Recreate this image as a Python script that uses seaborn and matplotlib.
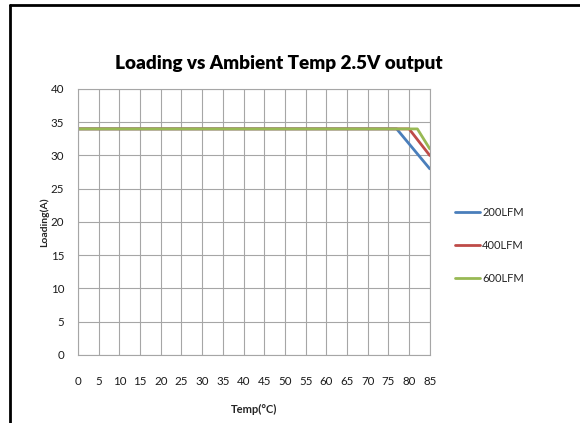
import matplotlib
matplotlib.use("Agg")
import matplotlib.pyplot as plt
import seaborn as sns
import pandas as pd
from matplotlib.lines import Line2D

# Derating curves: loading (A) vs ambient temperature (°C)
temp_200 = [0, 77, 85]
load_200 = [34, 34, 28]
temp_400 = [0, 80, 85]
load_400 = [34, 34, 30]
temp_600 = [0, 82, 85]
load_600 = [34, 34, 31]
series = ["200LFM", "400LFM", "600LFM"]
colors = ["#4a7ebb", "#be4b48", "#98b954"]
x_ticks = list(range(0, 90, 5))
y_ticks = list(range(0, 45, 5))

df = pd.concat([
    pd.DataFrame({"Temp": temp_200, "Loading": load_200, "Airflow": series[0]}),
    pd.DataFrame({"Temp": temp_400, "Loading": load_400, "Airflow": series[1]}),
    pd.DataFrame({"Temp": temp_600, "Loading": load_600, "Airflow": series[2]}),
])

sns.set_theme(style="white")
plt.rcParams["font.family"] = ["Lato", "DejaVu Sans"]

fig = plt.figure(figsize=(5.8, 4.23), dpi=100)
ax = fig.add_axes([0.1345, 0.1608, 0.741 - 0.1345, 0.7896 - 0.1608])

sns.lineplot(data=df, x="Temp", y="Loading", hue="Airflow", hue_order=series,
             palette=colors, linewidth=2, sort=False, estimator=None,
             ax=ax, legend=False)

ax.set_xlim(0, 85)
ax.set_ylim(0, 40)
ax.set_xticks(x_ticks)
ax.set_yticks(y_ticks)
ax.grid(True, color="#a6a6a6", linewidth=0.8)
ax.set_axisbelow(True)
for s in ax.spines.values():
    s.set_color("#a6a6a6")
    s.set_linewidth(0.8)
ax.tick_params(axis="both", length=0, labelsize=8.3, colors="#1a1a1a")
ax.tick_params(axis="x", pad=15)
ax.tick_params(axis="y", pad=10)

ax.set_xlabel("Temp(\u00b0C)", fontsize=8, fontweight="bold", labelpad=12)
ax.set_ylabel("Loading(A)", fontsize=7.5, fontweight="bold", labelpad=1)

fig.text(0.481, 0.851, "Loading vs Ambient Temp 2.5V output",
         ha="center", va="center", fontsize=13.6, fontweight="heavy", color="#000000")

handles = [Line2D([], [], color=c, linewidth=2) for c in colors]
fig.legend(handles, series, loc="center left", bbox_to_anchor=(0.776, 0.42),
           frameon=False, fontsize=8, handlelength=2.3, handletextpad=0.2,
           labelspacing=2.0, borderaxespad=0)

# Outer frame (open to the right and bottom)
fig.add_artist(Line2D([0.0172, 0.0172], [0.0, 0.988], transform=fig.transFigure,
                      color="black", linewidth=2))
fig.add_artist(Line2D([0.0172, 1.0], [0.988, 0.988], transform=fig.transFigure,
                      color="black", linewidth=2))

fig.savefig("out.png", dpi=100, facecolor="white")
